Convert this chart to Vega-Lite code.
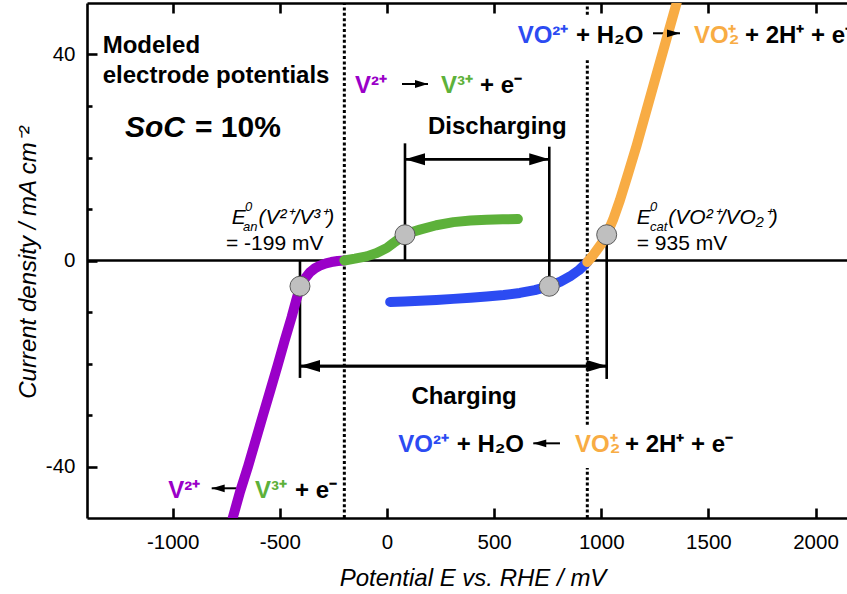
{
  "$schema": "https://vega.github.io/schema/vega-lite/v6.json",
  "width": 760,
  "height": 515,
  "autosize": {"type": "none"},
  "padding": {"left": 87, "top": 3, "right": 0, "bottom": 76},
  "background": "white",
  "config": {
    "view": {"stroke": null},
    "font": "Liberation Sans",
    "axis": {"domainColor": "black", "domainWidth": 2.6, "tickColor": "black", "tickWidth": 2.6, "grid": false, "labelColor": "black", "titleColor": "black", "labelFont": "Liberation Sans", "titleFont": "Liberation Sans"}
  },
  "datasets": {
    "curves": [
      {"E": -720, "j": -50, "species": "V(II)"}, {"E": -685, "j": -44.8, "species": "V(II)"}, {"E": -650, "j": -40.2, "species": "V(II)"}, {"E": -615, "j": -35.2, "species": "V(II)"}, {"E": -580, "j": -30.2, "species": "V(II)"}, {"E": -545, "j": -25.3, "species": "V(II)"}, {"E": -510, "j": -20.3, "species": "V(II)"}, {"E": -478, "j": -15.6, "species": "V(II)"}, {"E": -445, "j": -11.0, "species": "V(II)"}, {"E": -425, "j": -7.9, "species": "V(II)"}, {"E": -406, "j": -5.2, "species": "V(II)"}, {"E": -383, "j": -3.5, "species": "V(II)"}, {"E": -360, "j": -2.3, "species": "V(II)"}, {"E": -336, "j": -1.5, "species": "V(II)"}, {"E": -313, "j": -1.0, "species": "V(II)"}, {"E": -285, "j": -0.55, "species": "V(II)"}, {"E": -260, "j": -0.3, "species": "V(II)"}, {"E": -230, "j": -0.1, "species": "V(II)"}, {"E": -199, "j": 0, "species": "V(II)"},
      {"E": -199, "j": 0, "species": "V(III)"}, {"E": -150, "j": 0.35, "species": "V(III)"}, {"E": -95, "j": 0.8, "species": "V(III)"}, {"E": -48, "j": 1.45, "species": "V(III)"}, {"E": 0, "j": 2.45, "species": "V(III)"}, {"E": 30, "j": 3.4, "species": "V(III)"}, {"E": 60, "j": 4.3, "species": "V(III)"}, {"E": 84, "j": 4.95, "species": "V(III)"}, {"E": 110, "j": 5.45, "species": "V(III)"}, {"E": 154, "j": 6.0, "species": "V(III)"}, {"E": 230, "j": 6.85, "species": "V(III)"}, {"E": 310, "j": 7.45, "species": "V(III)"}, {"E": 390, "j": 7.75, "species": "V(III)"}, {"E": 465, "j": 7.9, "species": "V(III)"}, {"E": 540, "j": 8.0, "species": "V(III)"}, {"E": 611, "j": 8.05, "species": "V(III)"},
      {"E": 15, "j": -8.05, "species": "V(IV)"}, {"E": 80, "j": -7.95, "species": "V(IV)"}, {"E": 155, "j": -7.8, "species": "V(IV)"}, {"E": 230, "j": -7.65, "species": "V(IV)"}, {"E": 310, "j": -7.45, "species": "V(IV)"}, {"E": 390, "j": -7.25, "species": "V(IV)"}, {"E": 465, "j": -7.0, "species": "V(IV)"}, {"E": 545, "j": -6.7, "species": "V(IV)"}, {"E": 620, "j": -6.3, "species": "V(IV)"}, {"E": 690, "j": -5.75, "species": "V(IV)"}, {"E": 757, "j": -5.0, "species": "V(IV)"}, {"E": 810, "j": -4.1, "species": "V(IV)"}, {"E": 854, "j": -3.1, "species": "V(IV)"}, {"E": 895, "j": -1.9, "species": "V(IV)"}, {"E": 935, "j": -0.3, "species": "V(IV)"},
      {"E": 935, "j": -0.3, "species": "V(V)"}, {"E": 958, "j": 0.8, "species": "V(V)"}, {"E": 978, "j": 1.95, "species": "V(V)"}, {"E": 1000, "j": 3.2, "species": "V(V)"}, {"E": 1025, "j": 5.0, "species": "V(V)"}, {"E": 1055, "j": 7.9, "species": "V(V)"}, {"E": 1087, "j": 11.7, "species": "V(V)"}, {"E": 1125, "j": 16.8, "species": "V(V)"}, {"E": 1165, "j": 22.3, "species": "V(V)"}, {"E": 1210, "j": 29.0, "species": "V(V)"}, {"E": 1259, "j": 36.3, "species": "V(V)"}, {"E": 1305, "j": 43.1, "species": "V(V)"}, {"E": 1352, "j": 50, "species": "V(V)"}
    ],
    "markers": [
      {"E": -406, "j": -5}, {"E": 84.1, "j": 5}, {"E": 757.5, "j": -5}, {"E": 1025.4, "j": 5}
    ],
    "equilibriumLines": [
      {"E": -199, "j1": -50, "j2": 50},
      {"E": 935, "j1": 47.7, "j2": 50},
      {"E": 935, "j1": -31.9, "j2": 38.9},
      {"E": 935, "j1": -50, "j2": -40.3}
    ],
    "bracketLines": [
      {"E": 84.1, "j1": 22.75, "j2": 0},
      {"E": 757.5, "j1": 22.1, "j2": -5},
      {"E": -406, "j1": 0, "j2": -22.8},
      {"E": 1025.4, "j1": 5, "j2": -23.0}
    ],
    "bracketArrows": [
      {"E1": 757.5, "E2": 84.1, "j": 19.65, "dir": "left"},
      {"E1": 84.1, "E2": 757.5, "j": 19.65, "dir": "right"},
      {"E1": 1025.4, "E2": -406, "j": -20.5, "dir": "left"},
      {"E1": -406, "E2": 1025.4, "j": -20.5, "dir": "right"}
    ],
    "reactionArrows": [
      {"E1": 70.1, "E2": 191.4, "j": 34.27, "dir": "right"},
      {"E1": 1241.5, "E2": 1367.5, "j": 44.12, "dir": "right"},
      {"E1": 807.4, "E2": 682.8, "j": -35.5, "dir": "left"},
      {"E1": -701.4, "E2": -818.0, "j": -44.23, "dir": "left"}
    ],
    "boldText": [
      {"E": -1326.7, "j": 40.23, "label": "Modeled", "species": "none"},
      {"E": -1326.7, "j": 34.56, "label": "electrode potentials", "species": "none"},
      {"E": 191.4, "j": 24.56, "label": "Discharging", "species": "none"},
      {"E": 113.9, "j": -27.86, "label": "Charging", "species": "none"},
      {"E": -149.3, "j": 32.52, "label": "V²⁺", "species": "V(II)"},
      {"E": 252.1, "j": 32.52, "label": "V³⁺", "species": "V(III)"},
      {"E": 434.1, "j": 32.52, "label": "+ e⁻", "species": "none"},
      {"E": 610.0, "j": 42.23, "label": "VO²⁺", "species": "V(IV)"},
      {"E": 882.1, "j": 42.23, "label": "+ H₂O", "species": "none"},
      {"E": 1432.8, "j": 42.23, "label": "VO₂", "species": "V(V)"},
      {"E": 1593.8, "j": 42.23, "label": "⁺", "species": "V(V)"},
      {"E": 1670.8, "j": 42.23, "label": "+ 2H⁺ + e⁻", "species": "none"},
      {"E": 52.8, "j": -37.13, "label": "VO²⁺", "species": "V(IV)"},
      {"E": 325.4, "j": -37.13, "label": "+ H₂O", "species": "none"},
      {"E": 877.4, "j": -37.13, "label": "VO₂", "species": "V(V)"},
      {"E": 1040.8, "j": -37.13, "label": "⁺", "species": "V(V)"},
      {"E": 1110.8, "j": -37.13, "label": "+ 2H⁺ + e⁻", "species": "none"},
      {"E": -1020.6, "j": -46.17, "label": "V²⁺", "species": "V(II)"},
      {"E": -616.0, "j": -46.17, "label": "V³⁺", "species": "V(III)"},
      {"E": -429.3, "j": -46.17, "label": "+ e⁻", "species": "none"}
    ],
    "socItalic": [{"E": -1222.7, "j": 24.04, "label": "SoC"}],
    "socValue": [{"E": -896, "j": 24.04, "label": "= 10%"}],
    "potentialItalic": [
      {"E": -724.7, "j": 7.09, "label": "E"},
      {"E": -600.0, "j": 7.09, "label": "(V²⁺/V³⁺)"},
      {"E": 1165.4, "j": 7.09, "label": "E"},
      {"E": 1313.0, "j": 7.09, "label": "(VO²⁺/VO₂⁺)"}
    ],
    "potentialIndex": [
      {"E": -662.6, "j": 9.61, "label": "0"},
      {"E": -672.0, "j": 5.73, "label": "an"},
      {"E": 1227.5, "j": 9.61, "label": "0"},
      {"E": 1227.5, "j": 5.73, "label": "cat"}
    ],
    "potentialValue": [
      {"E": -751.3, "j": 2.04, "label": "= -199 mV"},
      {"E": 1165.4, "j": 2.04, "label": "= 935 mV"}
    ]
  },
  "layer": [
    {
      "data": {"name": "equilibriumLines"},
      "mark": {"type": "rule", "strokeDash": [3, 2.4], "strokeWidth": 3, "color": "black"},
      "encoding": {
        "x": {"field": "E", "type": "quantitative", "scale": {"domain": [-1400, 2147], "nice": false, "zero": false}, "axis": {"orient": "top", "values": [-1000, -500, 0, 500, 1000, 1500, 2000], "labels": false, "tickSize": -10, "title": null}},
        "y": {"field": "j1", "type": "quantitative", "scale": {"domain": [-50, 50], "nice": false, "zero": false}, "axis": null},
        "y2": {"field": "j2"}
      }
    },
    {
      "data": {"values": [{"j": 0}]},
      "mark": {"type": "rule", "color": "black", "strokeWidth": 2.6},
      "encoding": {
        "y": {"field": "j", "type": "quantitative", "scale": {"domain": [-50, 50], "nice": false, "zero": false}, "axis": {"orient": "left", "values": [-30, -20, -10, 10, 20, 30], "labels": false, "tickSize": -5, "domain": false, "title": null}}
      }
    },
    {
      "data": {"name": "bracketLines"},
      "mark": {"type": "rule", "color": "black", "strokeWidth": 2.6},
      "encoding": {
        "x": {"field": "E", "type": "quantitative", "scale": {"domain": [-1400, 2147], "nice": false, "zero": false}, "axis": null},
        "y": {"field": "j1", "type": "quantitative", "scale": {"domain": [-50, 50], "nice": false, "zero": false}, "axis": null},
        "y2": {"field": "j2"}
      }
    },
    {
      "data": {"name": "bracketArrows"},
      "mark": {"type": "rule", "color": "black", "strokeWidth": 2.6},
      "encoding": {
        "x": {"field": "E1", "type": "quantitative", "scale": {"domain": [-1400, 2147], "nice": false, "zero": false}, "axis": null},
        "x2": {"field": "E2"},
        "y": {"field": "j", "type": "quantitative", "scale": {"domain": [-50, 50], "nice": false, "zero": false}, "axis": null}
      }
    },
    {
      "data": {"name": "reactionArrows"},
      "mark": {"type": "rule", "color": "black", "strokeWidth": 2},
      "encoding": {
        "x": {"field": "E1", "type": "quantitative", "scale": {"domain": [-1400, 2147], "nice": false, "zero": false}, "axis": null},
        "x2": {"field": "E2"},
        "y": {"field": "j", "type": "quantitative", "scale": {"domain": [-50, 50], "nice": false, "zero": false}, "axis": null}
      }
    },
    {
      "data": {"name": "curves"},
      "mark": {"type": "line", "strokeWidth": 10, "strokeCap": "round", "strokeJoin": "round", "clip": true},
      "encoding": {
        "x": {"field": "E", "type": "quantitative", "scale": {"domain": [-1400, 2147], "nice": false, "zero": false},
          "axis": {"orient": "bottom", "values": [-1000, -500, 0, 500, 1000, 1500, 2000], "tickSize": -10, "labelPadding": 24, "labelFontSize": 20.5, "labelExpr": "'' + datum.value", "labelFlush": false, "labelOverlap": false,
            "title": "Potential E vs. RHE / mV", "titleFontSize": 24, "titleFontStyle": "italic", "titleFontWeight": "normal", "titleBaseline": "alphabetic", "titleX": 385.5, "titleY": 67}},
        "y": {"field": "j", "type": "quantitative", "scale": {"domain": [-50, 50], "nice": false, "zero": false},
          "axis": {"orient": "left", "values": [-40, 0, 40], "tickSize": -10, "labelPadding": 22, "labelFontSize": 20.5, "labelExpr": "'' + datum.value", "labelOverlap": false,
            "title": "Current density / mA cm⁻²", "titleFontSize": 24, "titleFontStyle": "italic", "titleFontWeight": "normal", "titleBaseline": "alphabetic", "titleX": -52, "titleY": 259, "titleAngle": 270}},
        "color": {"field": "species", "type": "nominal", "scale": {"domain": ["V(II)", "V(III)", "V(IV)", "V(V)", "none"], "range": ["#9A00C8", "#5DB13A", "#2C4BF2", "#F8AC44", "#000000"]}, "legend": null}
      }
    },
    {
      "data": {"name": "markers"},
      "mark": {"type": "point", "shape": "circle", "filled": true, "size": 400, "fill": "#BFBFBF", "stroke": "#5A5A5A", "strokeWidth": 1, "opacity": 1},
      "encoding": {
        "x": {"field": "E", "type": "quantitative", "scale": {"domain": [-1400, 2147], "nice": false, "zero": false}, "axis": null},
        "y": {"field": "j", "type": "quantitative", "scale": {"domain": [-50, 50], "nice": false, "zero": false}, "axis": null}
      }
    },
    {
      "data": {"name": "bracketArrows"},
      "mark": {"type": "point", "filled": true, "size": 1600, "color": "black", "opacity": 1, "strokeWidth": 0},
      "encoding": {
        "x": {"field": "E2", "type": "quantitative", "scale": {"domain": [-1400, 2147], "nice": false, "zero": false}, "axis": null},
        "y": {"field": "j", "type": "quantitative", "scale": {"domain": [-50, 50], "nice": false, "zero": false}, "axis": null},
        "shape": {"field": "dir", "type": "nominal", "scale": {"domain": ["left", "right"], "range": ["M0,0L1,-0.3L1,0.3Z", "M0,0L-1,-0.3L-1,0.3Z"]}, "legend": null}
      }
    },
    {
      "data": {"name": "reactionArrows"},
      "mark": {"type": "point", "filled": true, "size": 676, "color": "black", "opacity": 1, "strokeWidth": 0},
      "encoding": {
        "x": {"field": "E2", "type": "quantitative", "scale": {"domain": [-1400, 2147], "nice": false, "zero": false}, "axis": null},
        "y": {"field": "j", "type": "quantitative", "scale": {"domain": [-50, 50], "nice": false, "zero": false}, "axis": null},
        "shape": {"field": "dir", "type": "nominal", "scale": {"domain": ["left", "right"], "range": ["M0,0L1,-0.3L1,0.3Z", "M0,0L-1,-0.3L-1,0.3Z"]}, "legend": null}
      }
    },
    {
      "data": {"name": "boldText"},
      "mark": {"type": "text", "align": "left", "baseline": "alphabetic", "fontSize": 24, "fontWeight": "bold", "font": "Liberation Sans"},
      "encoding": {
        "x": {"field": "E", "type": "quantitative", "scale": {"domain": [-1400, 2147], "nice": false, "zero": false}, "axis": null},
        "y": {"field": "j", "type": "quantitative", "scale": {"domain": [-50, 50], "nice": false, "zero": false}, "axis": null},
        "text": {"field": "label"},
        "color": {"field": "species", "type": "nominal", "scale": {"domain": ["V(II)", "V(III)", "V(IV)", "V(V)", "none"], "range": ["#9A00C8", "#5DB13A", "#2C4BF2", "#F8AC44", "#000000"]}, "legend": null}
      }
    },
    {
      "data": {"name": "socItalic"},
      "mark": {"type": "text", "align": "left", "baseline": "alphabetic", "fontSize": 30, "fontWeight": "bold", "fontStyle": "italic", "font": "Liberation Sans", "color": "black"},
      "encoding": {
        "x": {"field": "E", "type": "quantitative", "scale": {"domain": [-1400, 2147], "nice": false, "zero": false}, "axis": null},
        "y": {"field": "j", "type": "quantitative", "scale": {"domain": [-50, 50], "nice": false, "zero": false}, "axis": null},
        "text": {"field": "label"}
      }
    },
    {
      "data": {"name": "socValue"},
      "mark": {"type": "text", "align": "left", "baseline": "alphabetic", "fontSize": 30, "fontWeight": "bold", "font": "Liberation Sans", "color": "black"},
      "encoding": {
        "x": {"field": "E", "type": "quantitative", "scale": {"domain": [-1400, 2147], "nice": false, "zero": false}, "axis": null},
        "y": {"field": "j", "type": "quantitative", "scale": {"domain": [-50, 50], "nice": false, "zero": false}, "axis": null},
        "text": {"field": "label"}
      }
    },
    {
      "data": {"name": "potentialItalic"},
      "mark": {"type": "text", "align": "left", "baseline": "alphabetic", "fontSize": 21, "fontStyle": "italic", "font": "Liberation Sans", "color": "black"},
      "encoding": {
        "x": {"field": "E", "type": "quantitative", "scale": {"domain": [-1400, 2147], "nice": false, "zero": false}, "axis": null},
        "y": {"field": "j", "type": "quantitative", "scale": {"domain": [-50, 50], "nice": false, "zero": false}, "axis": null},
        "text": {"field": "label"}
      }
    },
    {
      "data": {"name": "potentialIndex"},
      "mark": {"type": "text", "align": "left", "baseline": "alphabetic", "fontSize": 13, "fontStyle": "italic", "font": "Liberation Sans", "color": "black"},
      "encoding": {
        "x": {"field": "E", "type": "quantitative", "scale": {"domain": [-1400, 2147], "nice": false, "zero": false}, "axis": null},
        "y": {"field": "j", "type": "quantitative", "scale": {"domain": [-50, 50], "nice": false, "zero": false}, "axis": null},
        "text": {"field": "label"}
      }
    },
    {
      "data": {"name": "potentialValue"},
      "mark": {"type": "text", "align": "left", "baseline": "alphabetic", "fontSize": 21, "font": "Liberation Sans", "color": "black"},
      "encoding": {
        "x": {"field": "E", "type": "quantitative", "scale": {"domain": [-1400, 2147], "nice": false, "zero": false}, "axis": null},
        "y": {"field": "j", "type": "quantitative", "scale": {"domain": [-50, 50], "nice": false, "zero": false}, "axis": null},
        "text": {"field": "label"}
      }
    }
  ],
  "resolve": {"axis": {"x": "independent", "y": "independent"}}
}
